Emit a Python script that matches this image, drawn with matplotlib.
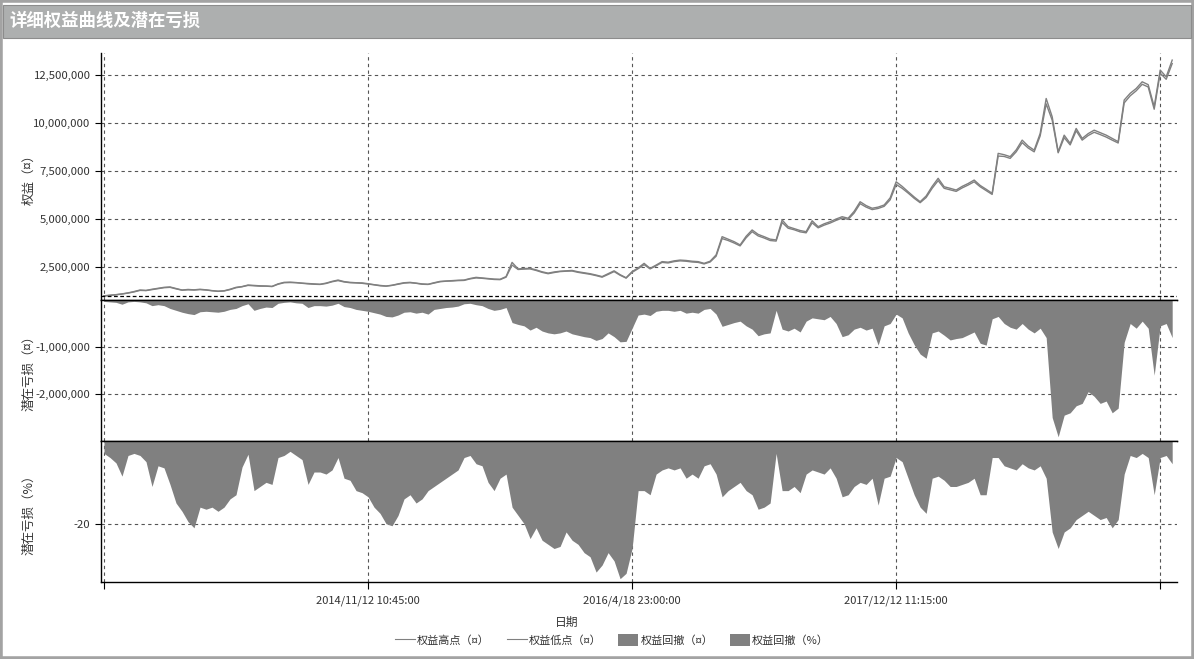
import numpy as np
import matplotlib
matplotlib.use('Agg')
import matplotlib.pyplot as plt
from matplotlib.lines import Line2D
from matplotlib.patches import Patch, Rectangle
from matplotlib.ticker import FuncFormatter

plt.rcParams['font.family'] = ['Noto Sans CJK SC', 'DejaVu Sans']

# equity high / low, millions
equity_high = [
    1.00, 1.03, 1.06, 1.10, 1.15, 1.22, 1.30, 1.28, 1.34, 1.39,
    1.44, 1.46, 1.38, 1.30, 1.33, 1.31, 1.34, 1.31, 1.27, 1.24,
    1.26, 1.34, 1.44, 1.48, 1.56, 1.54, 1.52, 1.51, 1.49, 1.62,
    1.70, 1.71, 1.69, 1.66, 1.64, 1.62, 1.60, 1.66, 1.75, 1.82,
    1.74, 1.70, 1.68, 1.67, 1.63, 1.58, 1.54, 1.51, 1.55, 1.62,
    1.68, 1.70, 1.66, 1.62, 1.60, 1.68, 1.75, 1.77, 1.79, 1.81,
    1.82, 1.90, 1.96, 1.93, 1.90, 1.87, 1.86, 2.00, 2.74, 2.40,
    2.42, 2.43, 2.35, 2.25, 2.18, 2.24, 2.28, 2.30, 2.32, 2.25,
    2.20, 2.15, 2.08, 2.00, 2.15, 2.30, 2.10, 1.94, 2.26, 2.45,
    2.69, 2.43, 2.60, 2.78, 2.75, 2.82, 2.86, 2.84, 2.80, 2.78,
    2.69, 2.80, 3.13, 4.08, 3.95, 3.82, 3.65, 4.10, 4.43, 4.20,
    4.08, 3.95, 3.91, 4.95, 4.60, 4.50, 4.40, 4.34, 4.91, 4.60,
    4.75, 4.86, 5.00, 5.12, 5.04, 5.40, 5.90, 5.70, 5.56, 5.62,
    5.73, 6.10, 6.94, 6.70, 6.42, 6.15, 5.90, 6.20, 6.70, 7.12,
    6.68, 6.60, 6.51, 6.70, 6.85, 7.03, 6.75, 6.55, 6.34, 8.42,
    8.35, 8.25, 8.60, 9.11, 8.80, 8.59, 9.46, 11.28, 10.33, 8.50,
    9.37, 8.94, 9.72, 9.20, 9.45, 9.63, 9.50, 9.37, 9.20, 9.03,
    11.20, 11.55, 11.80, 12.15, 12.00, 10.85, 12.76, 12.41, 13.28,
]
equity_low = [
    0.99, 1.02, 1.05, 1.09, 1.14, 1.20, 1.28, 1.27, 1.32, 1.37,
    1.42, 1.44, 1.36, 1.29, 1.31, 1.30, 1.32, 1.30, 1.26, 1.23,
    1.25, 1.32, 1.42, 1.47, 1.54, 1.52, 1.50, 1.50, 1.48, 1.60,
    1.68, 1.69, 1.68, 1.65, 1.62, 1.60, 1.59, 1.64, 1.73, 1.79,
    1.72, 1.68, 1.67, 1.65, 1.61, 1.57, 1.52, 1.50, 1.54, 1.60,
    1.66, 1.68, 1.65, 1.60, 1.59, 1.66, 1.73, 1.76, 1.77, 1.79,
    1.80, 1.88, 1.93, 1.91, 1.88, 1.85, 1.84, 1.97, 2.60, 2.37,
    2.39, 2.40, 2.32, 2.22, 2.15, 2.21, 2.26, 2.28, 2.29, 2.22,
    2.17, 2.12, 2.05, 1.97, 2.11, 2.26, 2.07, 1.92, 2.22, 2.41,
    2.62, 2.40, 2.56, 2.74, 2.71, 2.78, 2.82, 2.80, 2.76, 2.74,
    2.66, 2.76, 3.06, 3.98, 3.88, 3.75, 3.60, 4.02, 4.34, 4.12,
    4.01, 3.88, 3.85, 4.82, 4.52, 4.44, 4.33, 4.28, 4.80, 4.54,
    4.68, 4.79, 4.93, 5.05, 4.98, 5.31, 5.80, 5.62, 5.49, 5.55,
    5.66, 6.00, 6.80, 6.60, 6.35, 6.08, 5.85, 6.12, 6.60, 7.00,
    6.60, 6.52, 6.44, 6.62, 6.77, 6.94, 6.68, 6.48, 6.28, 8.28,
    8.26, 8.16, 8.50, 8.98, 8.70, 8.50, 9.33, 11.00, 10.15, 8.45,
    9.24, 8.86, 9.60, 9.11, 9.35, 9.52, 9.40, 9.27, 9.11, 8.96,
    11.05, 11.42, 11.68, 12.02, 11.88, 10.72, 12.60, 12.28, 13.10,
]
# drawdown, millions
dd_money = [
    -0.03, -0.04, -0.05, -0.09, -0.04, -0.03, -0.04, -0.06, -0.12, -0.10,
    -0.12, -0.18, -0.22, -0.26, -0.29, -0.31, -0.25, -0.24, -0.25, -0.26,
    -0.24, -0.20, -0.18, -0.12, -0.08, -0.22, -0.18, -0.15, -0.16, -0.07,
    -0.05, -0.04, -0.06, -0.07, -0.16, -0.12, -0.12, -0.13, -0.11, -0.07,
    -0.14, -0.16, -0.20, -0.22, -0.24, -0.27, -0.30, -0.35, -0.36, -0.32,
    -0.26, -0.25, -0.28, -0.26, -0.30, -0.20, -0.18, -0.16, -0.15, -0.13,
    -0.08, -0.07, -0.10, -0.12, -0.18, -0.22, -0.20, -0.16, -0.48, -0.52,
    -0.55, -0.64, -0.58, -0.66, -0.70, -0.72, -0.70, -0.66, -0.72, -0.75,
    -0.78, -0.80, -0.86, -0.82, -0.70, -0.78, -0.89, -0.88, -0.60, -0.32,
    -0.30, -0.33, -0.24, -0.22, -0.22, -0.24, -0.22, -0.28, -0.26, -0.28,
    -0.20, -0.18, -0.30, -0.56, -0.52, -0.48, -0.45, -0.55, -0.62, -0.76,
    -0.72, -0.70, -0.22, -0.62, -0.66, -0.60, -0.68, -0.45, -0.38, -0.40,
    -0.42, -0.35, -0.50, -0.78, -0.74, -0.62, -0.58, -0.64, -0.60, -0.96,
    -0.55, -0.50, -0.30, -0.38, -0.70, -0.95, -1.15, -1.24, -0.70, -0.66,
    -0.75, -0.85, -0.82, -0.80, -0.74, -0.68, -0.92, -0.96, -0.40, -0.35,
    -0.50, -0.58, -0.62, -0.50, -0.62, -0.70, -0.60, -0.80, -2.50, -2.91,
    -2.45, -2.40, -2.25, -2.20, -1.95, -2.05, -2.20, -2.15, -2.40, -2.30,
    -0.90, -0.50, -0.60, -0.45, -0.60, -1.60, -0.55, -0.50, -0.80,
]
# drawdown, percent
dd_pct = [
    -3, -4, -5.3, -8.5, -3.5, -3, -3.5, -5, -11, -6,
    -6.5, -10.5, -15, -17, -19.5, -21, -16, -16.5, -16, -17,
    -16, -14, -13, -6.3, -3.2, -12, -11, -10, -10.5, -4,
    -3.5, -2.5, -3.5, -4.5, -10.5, -7.5, -7.5, -8, -7, -4,
    -9, -9.5, -12, -12.5, -13.5, -16, -17.5, -20, -20.5, -18,
    -14, -13, -15, -14, -12, -11, -10, -9, -8, -7,
    -4, -3.5, -5.5, -6, -10, -12, -9, -8, -16, -18,
    -20, -23.6, -21, -24, -25, -26, -25.5, -22, -24, -25,
    -27, -28, -31.7, -30, -27, -29, -33.3, -32, -26, -12,
    -12, -13, -8, -7, -6.5, -7, -6.5, -9, -8, -9,
    -6, -5.5, -8, -13.5, -12, -11, -10, -12, -13, -16.5,
    -16, -15, -3, -12, -12, -11, -12.5, -8, -7, -7.5,
    -8, -6.5, -9, -13.5, -13, -11, -10, -10.5, -9, -15.5,
    -9, -8.5, -4, -5, -9, -13, -16, -17.5, -9, -8.5,
    -9.5, -11, -11, -10.5, -10, -9, -13, -13, -4, -4,
    -6, -6.5, -7, -5.5, -6.5, -7, -6, -9, -22, -26,
    -22, -21, -19, -18, -17, -18, -19, -18.5, -21, -19,
    -8, -3.5, -4, -3, -4, -13, -4, -3.5, -5.5,
]
tick_pos = [0, 44, 88, 132, 176]
tick_labels = ['', '2014/11/12 10:45:00', '2016/4/18 23:00:00', '2017/12/12 11:15:00', '']
initial_capital = 1000000

x = np.arange(len(equity_high))
eq_h = np.array(equity_high) * 1e6
eq_l = np.array(equity_low) * 1e6
ddm = np.array(dd_money) * 1e6
ddp = np.array(dd_pct)

W, H = 1194, 659
fig = plt.figure(figsize=(W / 100, H / 100), dpi=100)
fig.patch.set_facecolor('white')

# frame and title bar
fig.patches.append(Rectangle((0, 0), 1, 1, transform=fig.transFigure, fill=False,
                             edgecolor='#a3a3a3', lw=4, zorder=0))
fig.patches.append(Rectangle((3 / W, 1 - 38 / H), (W - 6) / W, 33 / H, transform=fig.transFigure,
                             facecolor='#adafaf', edgecolor='#8c8c8c', lw=0.8, zorder=1))
fig.text(9 / W, 1 - 21 / H, '详细权益曲线及潜在亏损', color='white', fontsize=12.5,
         fontweight='bold', va='center', ha='left')

gray = '#808080'
txt = '#333333'
left, right = 101 / W, 1177 / W
ax1 = fig.add_axes([left, 1 - 300 / H, right - left, 247 / H])
ax2 = fig.add_axes([left, 1 - 441 / H, right - left, 141 / H])
ax3 = fig.add_axes([left, 1 - 582 / H, right - left, 141 / H])

ax1.plot(x, eq_h, color=gray, lw=1.0)
ax1.plot(x, eq_l, color=gray, lw=1.0)
ax1.axhline(initial_capital, color='black', lw=0.9, ls=(0, (3, 2)))
ax2.fill_between(x, ddm, 0, color=gray, lw=0)
ax3.fill_between(x, ddp, 0, color=gray, lw=0)

ax1.set_ylim(780000, 13650000)
ax1.set_yticks([2500000, 5000000, 7500000, 10000000, 12500000])
ax2.set_ylim(-3000000, 0)
ax2.set_yticks([-1000000, -2000000])
ax3.set_ylim(-34.1, 0)
ax3.set_yticks([-20])

fmt = FuncFormatter(lambda v, p: f'{v:,.0f}')
for ax in (ax1, ax2, ax3):
    ax.set_xlim(-0.5, 178.8)
    ax.yaxis.set_major_formatter(fmt)
    ax.set_xticks(tick_pos)
    ax.set_axisbelow(True)
    ax.grid(True, color='#555555', ls=(0, (3, 3)), lw=0.8)
    ax.spines['right'].set_visible(False)
    ax.spines['left'].set_linewidth(1.0)
    ax.spines['bottom'].set_linewidth(1.0)
    ax.tick_params(axis='y', labelsize=8.2, labelcolor=txt, length=4, width=0.8)
    ax.tick_params(axis='x', length=0, labelbottom=False)
ax1.spines['top'].set_visible(False)
ax2.spines['top'].set_linewidth(1.0)
ax3.spines['top'].set_linewidth(1.0)

ax3.set_xticklabels(tick_labels)
ax3.tick_params(axis='x', length=5, width=0.8, labelsize=8, labelcolor=txt, pad=5,
                labelbottom=True)

ax1.set_ylabel('权益（¤）', fontsize=9, color=txt)
ax2.set_ylabel('潜在亏损（¤）', fontsize=9, color=txt)
ax3.set_ylabel('潜在亏损（%）', fontsize=9, color=txt)
for ax in (ax1, ax2, ax3):
    ax.yaxis.set_label_coords(-0.061, 0.5)

fig.text(567 / W, 1 - 622 / H, '日期', fontsize=8.5, color=txt, ha='center', va='center')

handles = [Line2D([], [], color=gray, lw=0.8),
           Line2D([], [], color=gray, lw=0.8),
           Patch(facecolor=gray),
           Patch(facecolor=gray)]
labels = ['权益高点（¤）', '权益低点（¤）', '权益回撤（¤）', '权益回撤（%）']
fig.legend(handles, labels, loc='center', bbox_to_anchor=(612 / W, 1 - 640 / H), ncol=4,
           frameon=False, fontsize=8, handlelength=1.8, handleheight=1.2, handletextpad=0.2,
           columnspacing=1.5, labelcolor=txt)

fig.savefig('out.png', dpi=100)
